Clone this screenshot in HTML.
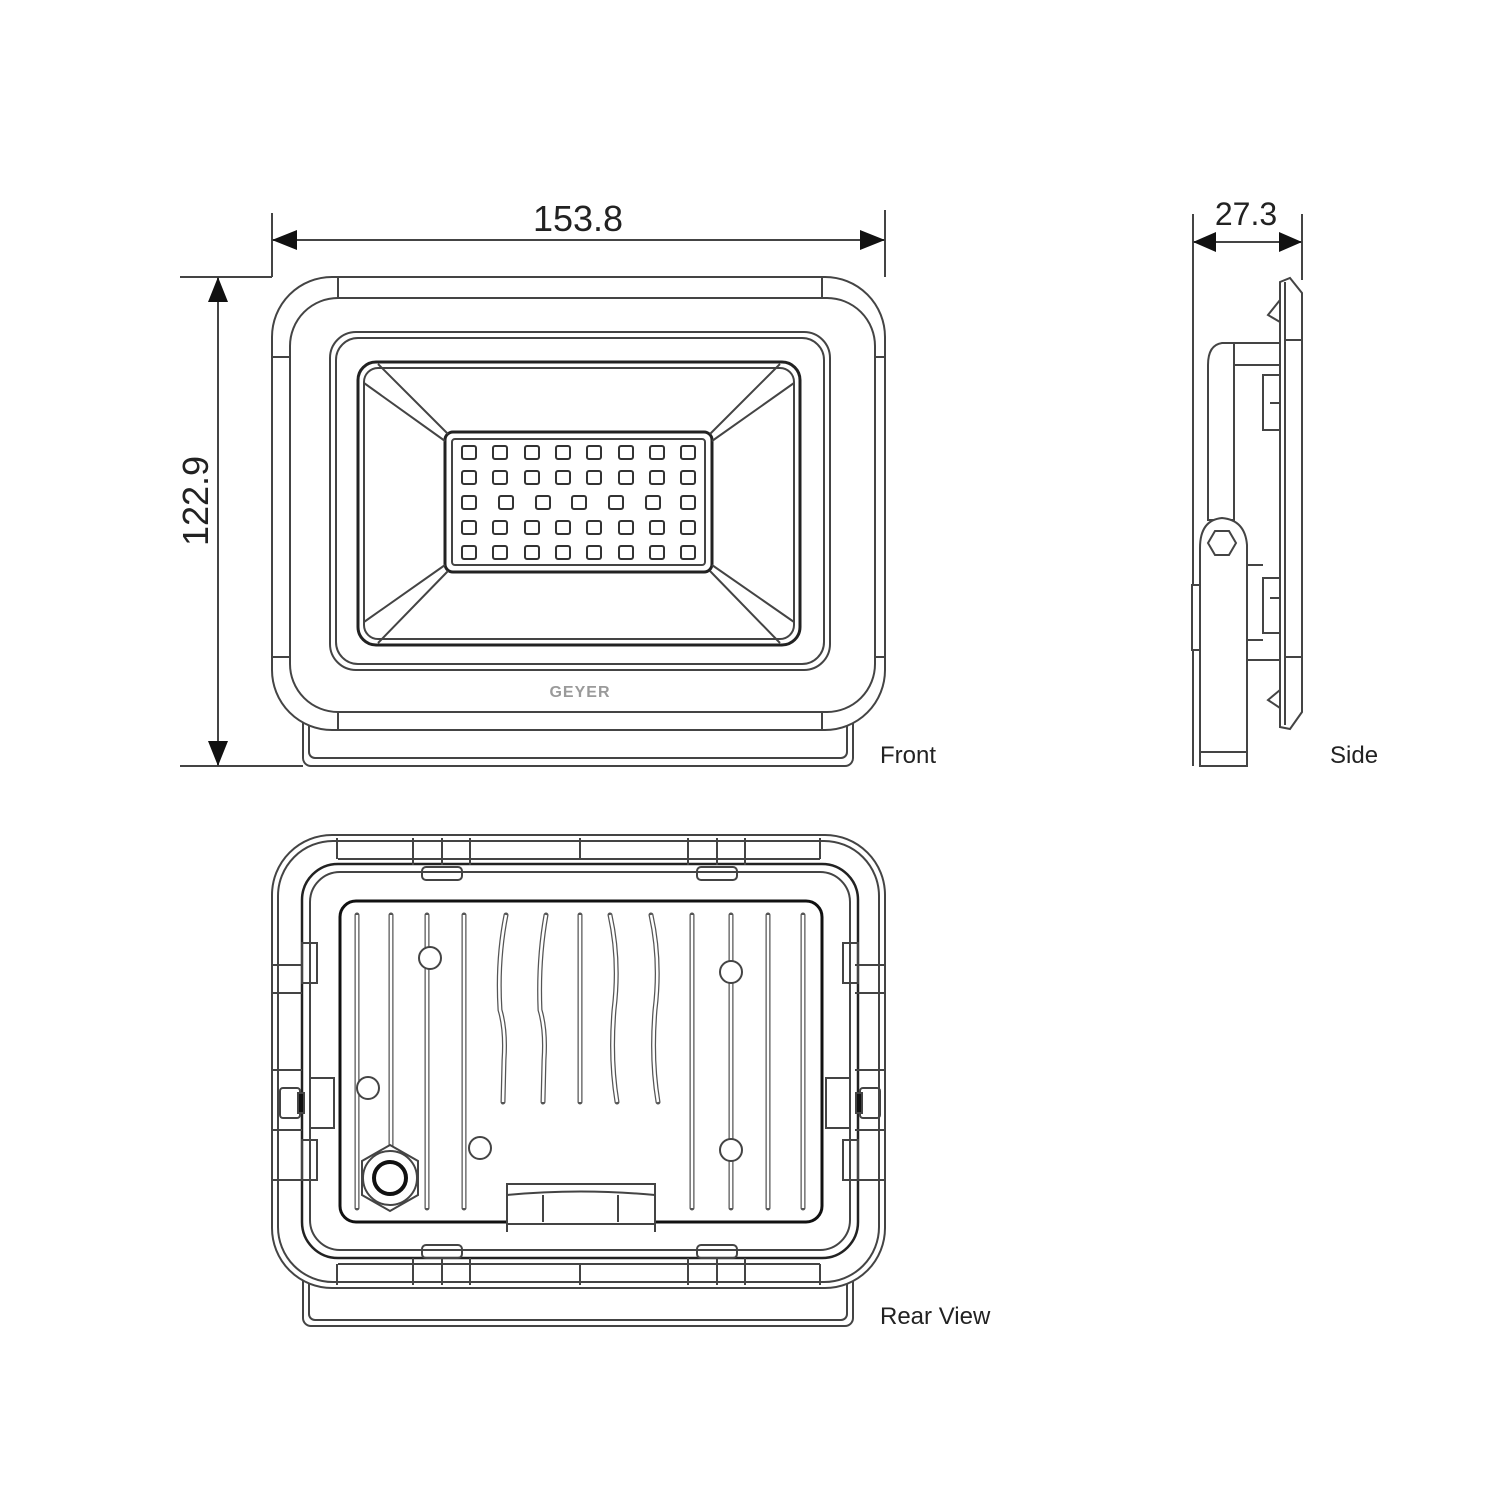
<!DOCTYPE html>
<html><head><meta charset="utf-8"><style>
html,body{margin:0;padding:0;background:#fff}
svg{display:block}
text{font-family:"Liberation Sans",sans-serif;fill:#222}
</style></head><body>
<svg width="1500" height="1500" viewBox="0 0 1500 1500" xmlns="http://www.w3.org/2000/svg">
<g stroke="#444" stroke-width="2" fill="none">
<line x1="272" y1="213" x2="272" y2="277"/>
<line x1="885" y1="210" x2="885" y2="277"/>
<line x1="272" y1="240" x2="885" y2="240"/>
<path d="M272,240 L297,230 L297,250 Z M885,240 L860,230 L860,250 Z" fill="#111" stroke="none"/>
<line x1="180" y1="277" x2="272" y2="277"/>
<line x1="180" y1="766" x2="303" y2="766"/>
<line x1="218" y1="277" x2="218" y2="766"/>
<path d="M218,277 L208,302 L228,302 Z M218,766 L208,741 L228,741 Z" fill="#111" stroke="none"/>
<line x1="1193" y1="214" x2="1193" y2="766"/>
<line x1="1302" y1="214" x2="1302" y2="280"/>
<line x1="1193" y1="242" x2="1302" y2="242"/>
<path d="M1193,242 L1216,232 L1216,252 Z M1302,242 L1279,232 L1279,252 Z" fill="#111" stroke="none"/>

<rect x="303" y="700" width="550" height="66" rx="8"/>
<rect x="309" y="700" width="538" height="58" rx="6"/>
<rect x="272" y="277" width="613" height="453" rx="60" fill="#fff"/>
<rect x="290" y="298" width="585" height="414" rx="48"/>
<line x1="338" y1="277" x2="338" y2="298"/><line x1="822" y1="277" x2="822" y2="298"/>
<line x1="338" y1="712" x2="338" y2="730"/><line x1="822" y1="712" x2="822" y2="730"/>
<line x1="272" y1="357" x2="290" y2="357"/><line x1="875" y1="357" x2="885" y2="357"/>
<line x1="272" y1="657" x2="290" y2="657"/><line x1="875" y1="657" x2="885" y2="657"/>
<rect x="330" y="332" width="500" height="338" rx="26"/>
<rect x="336" y="338" width="488" height="326" rx="22"/>
<rect x="358" y="362" width="442" height="283" rx="18" stroke="#222" stroke-width="3"/>
<rect x="364" y="368" width="430" height="271" rx="14"/>
<rect x="445" y="432" width="267" height="140" rx="8" stroke="#222" stroke-width="3"/>
<rect x="452" y="439" width="253" height="126" rx="3"/>
<path d="M378,364 L448,434 M364,383 L445,441 M780,364 L710,434 M794,383 L712,441 M378,643 L448,571 M364,622 L445,565 M780,643 L710,571 M794,622 L712,565"/>
</g>
<g stroke="#333" stroke-width="2" fill="none">
<g id="r1">
<rect x="462" y="446" width="14" height="13" rx="2"/><rect x="493" y="446" width="14" height="13" rx="2"/><rect x="525" y="446" width="14" height="13" rx="2"/><rect x="556" y="446" width="14" height="13" rx="2"/><rect x="587" y="446" width="14" height="13" rx="2"/><rect x="619" y="446" width="14" height="13" rx="2"/><rect x="650" y="446" width="14" height="13" rx="2"/><rect x="681" y="446" width="14" height="13" rx="2"/>
</g>
<use href="#r1" y="25"/>
<use href="#r1" y="75"/>
<use href="#r1" y="100"/>
<rect x="462" y="496" width="14" height="13" rx="2"/><rect x="499" y="496" width="14" height="13" rx="2"/><rect x="536" y="496" width="14" height="13" rx="2"/><rect x="572" y="496" width="14" height="13" rx="2"/><rect x="609" y="496" width="14" height="13" rx="2"/><rect x="646" y="496" width="14" height="13" rx="2"/><rect x="681" y="496" width="14" height="13" rx="2"/>
</g>
<text x="580" y="697" font-size="16" font-weight="bold" style="fill:#9a9a9a" text-anchor="middle" letter-spacing="1">GEYER</text>

<g stroke="#444" stroke-width="2" fill="#fff">
<path d="M1290,278 L1302,293 L1302,712 L1290,729 L1280,727 L1280,282 Z"/>
<line x1="1285" y1="282" x2="1285" y2="725"/>
<line x1="1285" y1="340" x2="1302" y2="340"/><line x1="1285" y1="657" x2="1302" y2="657"/>
<path d="M1280,300 L1268,315 L1280,322 Z M1280,690 L1268,700 L1280,708 Z"/>
<rect x="1234" y="343" width="46" height="317"/>
<line x1="1234" y1="365" x2="1280" y2="365"/>
<rect x="1263" y="375" width="17" height="55"/><line x1="1270" y1="403" x2="1280" y2="403"/>
<rect x="1263" y="578" width="17" height="55"/><line x1="1270" y1="598" x2="1280" y2="598"/>
<path d="M1234,343 L1222,343 Q1208,345 1208,365 L1208,520 L1234,520 Z"/>
<path d="M1200,548 Q1200,520 1222,518 Q1245,520 1247,545 L1247,766 L1200,766 Z"/>
<line x1="1200" y1="752" x2="1247" y2="752"/>
<rect x="1192" y="585" width="8" height="65"/>
<path d="M1208,543 L1215,531 L1229,531 L1236,543 L1229,555 L1215,555 Z"/>
<line x1="1247" y1="565" x2="1263" y2="565"/><line x1="1247" y1="640" x2="1263" y2="640"/>
</g>

<g stroke="#444" stroke-width="2" fill="none">
<rect x="303" y="1262" width="550" height="64" rx="8"/>
<rect x="309" y="1262" width="538" height="58" rx="6"/>
<rect x="272" y="835" width="613" height="453" rx="60" fill="#fff"/>
<rect x="278" y="841" width="601" height="441" rx="55"/>
<line x1="338" y1="859" x2="820" y2="859"/>
<line x1="338" y1="1264" x2="820" y2="1264"/>
<rect x="302" y="864" width="556" height="394" rx="36" stroke="#222" stroke-width="2.5"/>
<rect x="310" y="872" width="540" height="378" rx="30"/>
<line x1="337" y1="838" x2="337" y2="859"/><line x1="820" y1="838" x2="820" y2="859"/>
<line x1="580" y1="838" x2="580" y2="859"/><line x1="580" y1="1264" x2="580" y2="1285"/>
<line x1="337" y1="1264" x2="337" y2="1285"/><line x1="820" y1="1264" x2="820" y2="1285"/>
<path d="M413,838 L413,865 M442,838 L442,865 M470,838 L470,865 M688,838 L688,865 M717,838 L717,865 M745,838 L745,865"/>
<path d="M413,1258 L413,1285 M442,1258 L442,1285 M470,1258 L470,1285 M688,1258 L688,1285 M717,1258 L717,1285 M745,1258 L745,1285"/>
<rect x="422" y="867" width="40" height="13" rx="4"/><rect x="697" y="867" width="40" height="13" rx="4"/>
<rect x="422" y="1245" width="40" height="13" rx="4"/><rect x="697" y="1245" width="40" height="13" rx="4"/>
<path d="M272,965 L302,965 M272,993 L302,993 M272,1070 L302,1070 M272,1130 L302,1130 M272,1180 L302,1180"/>
<path d="M855,965 L885,965 M855,993 L885,993 M855,1070 L885,1070 M855,1130 L885,1130 M855,1180 L885,1180"/>
<rect x="302" y="943" width="15" height="40"/><rect x="843" y="943" width="15" height="40"/>
<rect x="302" y="1140" width="15" height="40"/><rect x="843" y="1140" width="15" height="40"/>
<rect x="310" y="1078" width="24" height="50"/><rect x="826" y="1078" width="24" height="50"/>
<rect x="280" y="1088" width="20" height="30" rx="3"/><rect x="860" y="1088" width="20" height="30" rx="3"/>
<rect x="298" y="1093" width="6" height="20" fill="#111"/><rect x="856" y="1093" width="6" height="20" fill="#111"/>
<rect x="340" y="901" width="482" height="321" rx="16" stroke="#111" stroke-width="3"/>
</g>
<g stroke="#555" stroke-width="5" fill="none" stroke-linecap="round">
<path d="M357,915 L357,1208 M391,915 L391,1208 M427,915 L427,1208 M464,915 L464,1208 M580,915 L580,1102 M692,915 L692,1208 M731,915 L731,1208 M768,915 L768,1208 M803,915 L803,1208"/>
<path d="M506,915 Q497,960 500,1010 Q506,1030 504,1060 L503,1102"/>
<path d="M546,915 Q538,960 540,1010 Q546,1030 544,1060 L543,1102"/>
<path d="M610,915 Q620,960 614,1010 Q610,1060 617,1102"/>
<path d="M651,915 Q661,960 655,1010 Q651,1060 658,1102"/>
</g>
<g stroke="#fff" stroke-width="2.5" fill="none">
<path d="M357,915 L357,1208 M391,915 L391,1208 M427,915 L427,1208 M464,915 L464,1208 M580,915 L580,1102 M692,915 L692,1208 M731,915 L731,1208 M768,915 L768,1208 M803,915 L803,1208"/>
<path d="M506,915 Q497,960 500,1010 Q506,1030 504,1060 L503,1102"/>
<path d="M546,915 Q538,960 540,1010 Q546,1030 544,1060 L543,1102"/>
<path d="M610,915 Q620,960 614,1010 Q610,1060 617,1102"/>
<path d="M651,915 Q661,960 655,1010 Q651,1060 658,1102"/>
</g>
<g stroke="#444" stroke-width="2" fill="#fff">
<circle cx="430" cy="958" r="11"/><circle cx="731" cy="972" r="11"/><circle cx="731" cy="1150" r="11"/>
<circle cx="368" cy="1088" r="11"/><circle cx="480" cy="1148" r="11"/>
<path d="M390,1145 L418,1161 L418,1195 L390,1211 L362,1195 L362,1161 Z"/>
<circle cx="390" cy="1178" r="27"/>
<circle cx="390" cy="1178" r="16" stroke="#111" stroke-width="4"/>
<rect x="507" y="1184" width="148" height="40"/>
<path d="M507,1195 Q580,1188 655,1195" fill="none"/>
<line x1="543" y1="1195" x2="543" y2="1222"/><line x1="618" y1="1195" x2="618" y2="1222"/>
<line x1="507" y1="1222" x2="507" y2="1232"/><line x1="655" y1="1222" x2="655" y2="1232"/>
</g>

<text x="578" y="231" font-size="36" text-anchor="middle">153.8</text>
<text x="1246" y="225" font-size="32" text-anchor="middle">27.3</text>
<text transform="translate(208,501) rotate(-90)" font-size="36" text-anchor="middle">122.9</text>
<text x="880" y="763" font-size="24">Front</text>
<text x="1330" y="763" font-size="24">Side</text>
<text x="880" y="1324" font-size="24">Rear View</text>
</svg>
</body></html>
